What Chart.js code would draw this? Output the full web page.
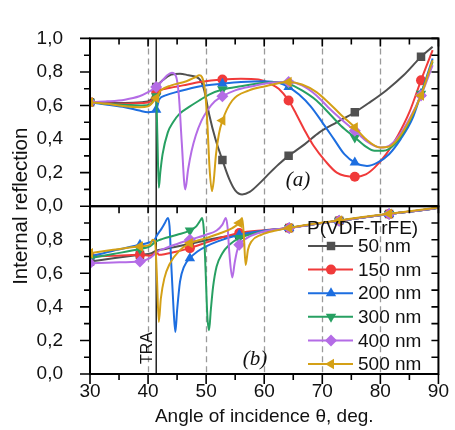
<!DOCTYPE html>
<html><head><meta charset="utf-8">
<script src="https://cdn.jsdelivr.net/npm/chart.js@4.4.1/dist/chart.umd.min.js"></script>
<style>html,body{margin:0;padding:0;background:#fff;}#wrap{width:455px;height:430px;position:relative;}</style>
</head><body><div id="wrap"><canvas id="c"></canvas></div>
<script>
// ---- data ----
const seriesNames = ['50 nm','150 nm','200 nm','300 nm','400 nm','500 nm'];
const legendTitle = 'P(VDF-TrFE)';
const markerAnglesA = [30,41.4,52.8,64.2,75.6,87];
const markerAnglesB = [30,38.6,47.2,55.7,64.3,72.9,81.5];
const xTickValues = [30,40,50,60,70,80,90];
const yTickLabels = ['0,0','0,2','0,4','0,6','0,8','1,0'];
const verticalGuides = [40,50,60,70,80];
const traAngle = 41.4;

// panel (a)  [angle, reflection]
const a50 = [[30,0.62],[33,0.615],[36,0.615],[39,0.62],[40.5,0.635],[41.4,0.71],[42.5,0.75],[44,0.785],[45.5,0.79],[47,0.78],[48.8,0.76],[49.6,0.70],[50.5,0.55],[51.6,0.40],[52.8,0.275],[54,0.16],[55,0.095],[56.2,0.07],[57.5,0.085],[59,0.13],[61,0.20],[62.5,0.25],[64.2,0.30],[67,0.37],[69.5,0.44],[72.5,0.50],[75.6,0.56],[78,0.615],[81,0.69],[84,0.78],[87,0.89],[89,0.95]];
const a150 = [[30,0.62],[33,0.612],[36,0.61],[39,0.615],[40.5,0.625],[41.4,0.68],[43,0.70],[46,0.72],[49,0.74],[52.8,0.755],[56,0.76],[59,0.755],[61,0.73],[62.5,0.70],[64.2,0.63],[65.5,0.55],[67,0.45],[68.5,0.36],[70.5,0.27],[72.5,0.20],[75.6,0.175],[77.5,0.19],[79,0.23],[81,0.31],[83,0.42],[85,0.56],[87,0.75],[89,0.93]];
const a200 = [[30,0.62],[33,0.605],[36,0.59],[38.5,0.57],[40,0.56],[41.4,0.575],[41.9,0.635],[43,0.66],[45.4,0.685],[49,0.715],[52.8,0.73],[56,0.74],[60,0.745],[62.5,0.735],[64.2,0.71],[66,0.665],[68,0.595],[70,0.50],[72,0.40],[73.8,0.31],[75.6,0.26],[77.7,0.24],[79.5,0.26],[81.5,0.31],[83.5,0.40],[85.5,0.52],[87,0.67],[89,0.88]];
const a300 = [[30,0.62],[33,0.61],[36,0.605],[39,0.60],[40.5,0.61],[41.4,0.655],[41.6,0.42],[41.85,0.11],[42.1,0.20],[42.5,0.31],[43.4,0.44],[44.3,0.50],[45.4,0.55],[47,0.59],[48.8,0.63],[50.5,0.665],[52.8,0.695],[56,0.715],[60,0.735],[62,0.74],[64.2,0.73],[66.5,0.69],[69,0.63],[71,0.56],[73.2,0.48],[75.6,0.41],[77.5,0.355],[79,0.33],[80.5,0.33],[82.5,0.37],[84.5,0.47],[86,0.58],[87,0.67],[89,0.86]];
const a400 = [[30,0.62],[33,0.625],[36,0.635],[38.5,0.655],[40,0.68],[41.4,0.71],[42.5,0.75],[43.3,0.78],[44.1,0.795],[44.8,0.775],[45.3,0.66],[45.8,0.38],[46.4,0.10],[46.9,0.22],[47.5,0.33],[48.2,0.42],[49.2,0.51],[50.3,0.575],[51.5,0.625],[52.8,0.655],[55,0.69],[58,0.715],[61,0.735],[64.2,0.74],[66.5,0.72],[69,0.66],[71,0.59],[73.2,0.52],[75.6,0.45],[77.5,0.39],[80,0.35],[81.5,0.36],[83,0.41],[85,0.52],[87,0.66],[89,0.84]];
const a500 = [[30,0.62],[33,0.61],[36,0.595],[38.5,0.59],[40,0.595],[41.4,0.645],[42.2,0.69],[44,0.72],[46.6,0.745],[48.2,0.77],[48.8,0.78],[49.8,0.69],[50.2,0.50],[50.6,0.22],[51.0,0.09],[51.3,0.15],[51.7,0.31],[52.2,0.43],[52.8,0.51],[54.5,0.63],[57.4,0.69],[60.2,0.715],[62,0.73],[64.2,0.74],[66.5,0.725],[69,0.68],[71,0.62],[73.2,0.545],[75.6,0.47],[77.5,0.40],[80,0.35],[81.5,0.355],[83,0.40],[85,0.51],[87,0.66],[89,0.87]];

// panel (b)
const b50 = [[30,0.67],[34,0.69],[38.6,0.71],[40.6,0.72],[41.4,0.735],[43,0.745],[45,0.76],[47.2,0.775],[51,0.805],[55.7,0.83],[60,0.85],[64.3,0.87],[68.5,0.893],[72.9,0.913],[77,0.933],[81.5,0.953],[86,0.972],[90,0.99]];
const b150 = [[30,0.70],[34,0.705],[38.6,0.71],[40.3,0.705],[41.0,0.715],[41.4,0.73],[41.9,0.71],[43,0.715],[45,0.73],[47.2,0.75],[51,0.795],[55.7,0.84],[60,0.857],[64.3,0.87],[68.5,0.893],[72.9,0.913],[77,0.933],[81.5,0.953],[86,0.972],[90,0.99]];
const b200 = [[30,0.70],[34,0.735],[38.6,0.77],[40.3,0.785],[41.1,0.80],[41.6,0.83],[42.3,0.865],[42.9,0.90],[43.4,0.93],[43.7,0.88],[44.0,0.65],[44.4,0.38],[44.7,0.25],[45.0,0.38],[45.5,0.55],[46.2,0.64],[47.2,0.69],[48.5,0.73],[50,0.76],[52,0.79],[55.7,0.83],[60,0.855],[64.3,0.87],[68.5,0.893],[72.9,0.913],[77,0.933],[81.5,0.953],[86,0.972],[90,0.99]];
const b300 = [[30,0.69],[34,0.715],[38.6,0.745],[40.3,0.76],[41.0,0.78],[41.4,0.79],[42.5,0.805],[45,0.83],[47.2,0.855],[48.3,0.88],[49.0,0.915],[49.3,0.93],[49.6,0.86],[49.9,0.62],[50.2,0.35],[50.5,0.26],[50.8,0.38],[51.2,0.52],[51.8,0.64],[52.8,0.72],[54,0.77],[55.7,0.81],[60,0.85],[64.3,0.87],[68.5,0.893],[72.9,0.913],[77,0.933],[81.5,0.953],[86,0.972],[90,0.99]];
const b400 = [[30,0.66],[34,0.665],[38.6,0.67],[40.3,0.69],[41.0,0.71],[41.4,0.725],[43,0.75],[45,0.775],[47.2,0.80],[50,0.83],[51.8,0.855],[52.8,0.89],[53.4,0.93],[53.7,0.87],[54.0,0.72],[54.5,0.575],[54.9,0.66],[55.3,0.73],[55.7,0.77],[57,0.81],[59,0.84],[61.5,0.86],[64.3,0.87],[68.5,0.893],[72.9,0.913],[77,0.933],[81.5,0.953],[86,0.972],[90,0.99]];
const b500 = [[30,0.72],[34,0.74],[38.6,0.76],[40.3,0.77],[40.8,0.80],[41.2,0.79],[41.5,0.60],[41.85,0.31],[42.2,0.45],[42.8,0.57],[43.7,0.655],[45.4,0.735],[47.2,0.78],[50,0.81],[52.5,0.84],[54.5,0.87],[55.7,0.90],[56.2,0.93],[56.5,0.82],[56.8,0.65],[57.2,0.74],[57.8,0.79],[59.5,0.83],[62,0.855],[64.3,0.87],[68.5,0.895],[72.9,0.915],[77,0.935],[81.5,0.955],[86,0.974],[90,0.992]];

// ---- styles ----
const colors = ['#505050','#f03a3a','#1d6ee0','#27a062','#b46ce6','#d4a016'];
const pStyles = ['rect','circle','triangle','triangle','rectRot','triangle'];
const pRot = [0,0,0,180,0,270];
const pRad = [6,5,6,6,6,6];

const panelA = [a50,a150,a200,a300,a400,a500];
const panelB = [b50,b150,b200,b300,b400,b500];

function mkDatasets(panel, axis, markers){
  return panel.map((arr,i)=>({
    label: seriesNames[i],
    data: arr.map(p=>({x:p[0],y:p[1]})),
    yAxisID: axis,
    borderColor: colors[i], backgroundColor: colors[i],
    borderWidth: 2, cubicInterpolationMode:'monotone',
    pointStyle: pStyles[i], pointRotation: pRot[i],
    pointBorderWidth: 0,
    pointRadius: (c)=> (c.raw && markers.some(m=>Math.abs(m-c.raw.x)<0.01)) ? pRad[i] : 0,
    pointHoverRadius: 0,
    order: 5-i
  }));
}

Chart.defaults.font.family = "'Liberation Sans', Arial, sans-serif";
Chart.defaults.color = '#111';

function yLabel(v){ const k=Math.round(v/0.2); return yTickLabels[k] ?? ''; }

const decor = {
  id:'decor',
  beforeDatasetsDraw(chart){
    const {ctx} = chart; const x=chart.scales.x, ya=chart.scales.yA, yb=chart.scales.yB;
    ctx.save();
    ctx.strokeStyle='#9a9a9a'; ctx.lineWidth=1.3; ctx.setLineDash([6,4]);
    for (const g of verticalGuides){
      const px=Math.round(x.getPixelForValue(g))+0.5;
      for (const s of [ya,yb]){ ctx.beginPath(); ctx.moveTo(px,s.top); ctx.lineTo(px,s.bottom); ctx.stroke(); }
    }
    ctx.setLineDash([]); ctx.strokeStyle='#000'; ctx.lineWidth=1.3;
    const tp=x.getPixelForValue(traAngle);
    ctx.beginPath(); ctx.moveTo(tp,ya.top); ctx.lineTo(tp,yb.bottom); ctx.stroke();
    ctx.restore();
  },
  afterDatasetsDraw(chart){
    const {ctx} = chart; const x=chart.scales.x, ya=chart.scales.yA, yb=chart.scales.yB;
    const L=x.left, R=x.right;
    ctx.save();
    ctx.strokeStyle='#000'; ctx.lineWidth=2;
    ctx.strokeRect(L, ya.top, R-L, ya.bottom-ya.top);
    ctx.strokeRect(L, yb.top, R-L, yb.bottom-yb.top);
    ctx.lineWidth=1.6;
    ctx.beginPath();
    for (const s of [ya,yb]){
      for (let k=0;k<=10;k++){
        const v=k/10, py=s.getPixelForValue(v), major=(k%2===0);
        ctx.moveTo(L,py); ctx.lineTo(L-(major?10:6),py);
        ctx.moveTo(R,py); ctx.lineTo(R-7,py);
      }
    }
    for (let a=30;a<=90;a+=5){
      const px=x.getPixelForValue(a), major=(a%10===0);
      ctx.moveTo(px,ya.top); ctx.lineTo(px,ya.top+(major?8:6));
      ctx.moveTo(px,yb.top); ctx.lineTo(px,yb.top+7);
      ctx.moveTo(px,yb.bottom); ctx.lineTo(px,yb.bottom+(major?10:6));
    }
    ctx.stroke();
    ctx.restore();
  },
  afterDraw(chart){
    const {ctx} = chart; const x=chart.scales.x, ya=chart.scales.yA, yb=chart.scales.yB;
    ctx.save();
    ctx.fillStyle='#111';
    ctx.font="19px 'Liberation Sans', Arial, sans-serif";
    ctx.textAlign='center'; ctx.textBaseline='middle';
    ctx.fillText('Angle of incidence \u03B8, deg.', (x.left+x.right)/2, 417);
    ctx.save(); ctx.translate(21,(ya.top+yb.bottom)/2); ctx.rotate(-Math.PI/2);
    ctx.font="20.5px 'Liberation Sans', Arial, sans-serif";
    ctx.fillText('Internal reflection',0,0); ctx.restore();
    // TRA
    ctx.save(); ctx.translate(x.getPixelForValue(traAngle)-9, 348); ctx.rotate(-Math.PI/2);
    ctx.font="16px 'Liberation Sans', Arial, sans-serif"; ctx.fillText('TRA',0,0); ctx.restore();
    // panel labels
    ctx.font="italic 21px 'Liberation Serif', 'Times New Roman', serif";
    ctx.fillText('(a)', 298, 180);
    ctx.fillText('(b)', 255, 359);
    // legend
    ctx.font="19px 'Liberation Sans', Arial, sans-serif";
    ctx.textAlign='left';
    ctx.fillText(legendTitle, 307, 229);
    const y0=246, dy=23.6;
    seriesNames.forEach((n,i)=>{
      const y=y0+i*dy;
      ctx.strokeStyle=colors[i]; ctx.lineWidth=2;
      ctx.beginPath(); ctx.moveTo(308,y); ctx.lineTo(353,y); ctx.stroke();
      ctx.fillStyle=colors[i];
      Chart.helpers.drawPoint(ctx,{pointStyle:pStyles[i],rotation:pRot[i],radius:pRad[i],borderWidth:0},331,y);
      ctx.fillStyle='#111';
      ctx.fillText(n, 358, y+1);
    });
    ctx.restore();
  }
};

const axisFont = {size:19, family:"'Liberation Sans', Arial, sans-serif"};
new Chart(document.getElementById('c'), {
  type:'line',
  data:{ datasets:[...mkDatasets(panelA,'yA',markerAnglesA), ...mkDatasets(panelB,'yB',markerAnglesB)] },
  options:{
    responsive:true, maintainAspectRatio:false, animation:false, events:[],
    layout:{padding:{top:17,right:14,left:0,bottom:0}},
    plugins:{legend:{display:false}, tooltip:{enabled:false}},
    scales:{
      x:{type:'linear', min:30, max:90, afterBuildTicks(s){ s.ticks = xTickValues.map(v=>({value:v})); },
         ticks:{font:axisFont, padding:6, maxRotation:0, autoSkip:false}, grid:{display:false, drawTicks:false}, border:{display:false},
         afterFit(s){ s.height=56; }},
      yB:{type:'linear', position:'left', stack:'p', stackWeight:1, min:0, max:1,
         ticks:{stepSize:0.2, autoSkip:false, font:axisFont, padding:27, callback:(v)=> v>0.95 ? '' : yLabel(v)},
         grid:{display:false, drawTicks:false}, border:{display:false}, afterFit(s){ s.width=90; }},
      yA:{type:'linear', position:'left', stack:'p', stackWeight:1, min:0, max:1,
         ticks:{stepSize:0.2, autoSkip:false, font:axisFont, padding:27, callback:(v)=>yLabel(v)},
         grid:{display:false, drawTicks:false}, border:{display:false}, afterFit(s){ s.width=90; }}
    }
  },
  plugins:[decor]
});
</script></body></html>
